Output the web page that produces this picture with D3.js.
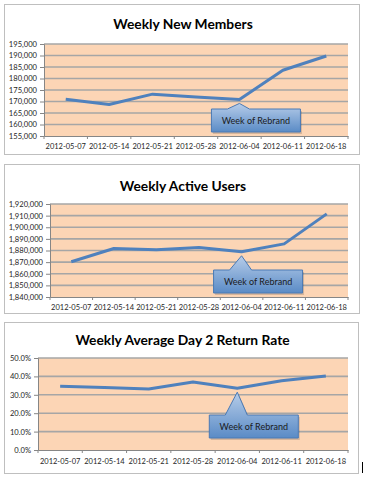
<!DOCTYPE html>
<html>
<head>
<meta charset="utf-8">
<script src="https://cdn.jsdelivr.net/npm/d3@7"></script>
<style>
  body { margin: 0; background: #fff; }
  svg { display: block; }
</style>
</head>
<body>
<div id="chart"></div>
<script>
var svgWidth = 369;
var svgHeight = 485;

// data
var weeks = ["2012-05-07", "2012-05-14", "2012-05-21", "2012-05-28", "2012-06-04", "2012-06-11", "2012-06-18"];
var newMembers = [171000, 168700, 173200, 172000, 170900, 183600, 189800];
var activeUsers = [1870300, 1881700, 1880600, 1882600, 1878900, 1885700, 1911500];
var returnRate = [0.346, 0.339, 0.332, 0.370, 0.336, 0.376, 0.402];

var newMembersTicks = [155000, 160000, 165000, 170000, 175000, 180000, 185000, 190000, 195000];
var activeUsersTicks = [1840000, 1850000, 1860000, 1870000, 1880000, 1890000, 1900000, 1910000, 1920000];
var returnRateTicks = [0, 0.1, 0.2, 0.3, 0.4, 0.5];

var rebrandWeek = "2012-06-04";
var rebrandLabel = "Week of Rebrand";

var svg = d3.select("#chart")
    .append("svg")
    .attr("width", svgWidth)
    .attr("height", svgHeight);

var defs = svg.append("defs");
var grad = defs.append("linearGradient")
    .attr("id", "calloutFill")
    .attr("x1", 0).attr("y1", 0)
    .attr("x2", 0).attr("y2", 1);
grad.append("stop").attr("offset", "0%").attr("stop-color", "#b7cde9");
grad.append("stop").attr("offset", "100%").attr("stop-color", "#5a8bc6");

var charts = [
    { title: "Weekly New Members", values: newMembers, ticks: newMembersTicks, fmt: d3.format(","),
      box: { x: 4.5, y: 4.5, w: 355, h: 150 }, plot: { left: 44, top: 44, right: 348, bottom: 136 },
      titleY: 29, labelY: 149, calloutBottom: 4 },
    { title: "Weekly Active Users", values: activeUsers, ticks: activeUsersTicks, fmt: d3.format(","),
      box: { x: 4.5, y: 164.5, w: 355, h: 149 }, plot: { left: 50, top: 204, right: 348, bottom: 297 },
      titleY: 191, labelY: 310, calloutBottom: 4 },
    { title: "Weekly Average Day 2 Return Rate", values: returnRate, ticks: returnRateTicks, fmt: d3.format(".1%"),
      box: { x: 4.5, y: 322.5, w: 354, h: 151 }, plot: { left: 38, top: 358, right: 348, bottom: 450 },
      titleY: 345, labelY: 464, calloutBottom: 12 }
];

charts.forEach(function(c) {
    var g = svg.append("g");

    g.append("rect")
        .attr("x", c.box.x).attr("y", c.box.y)
        .attr("width", c.box.w).attr("height", c.box.h)
        .attr("fill", "#fff")
        .attr("stroke", "#bfbfbf");

    g.append("text")
        .attr("x", (c.box.x + c.box.x + c.box.w) / 2 + 1)
        .attr("y", c.titleY)
        .attr("text-anchor", "middle")
        .attr("font-family", "Lato, 'Liberation Sans', sans-serif")
        .attr("font-weight", "bold")
        .attr("font-size", "13.8px")
        .attr("fill", "#000")
        .text(c.title);

    var x = d3.scaleBand()
        .domain(weeks)
        .range([c.plot.left, c.plot.right]);

    var y = d3.scaleLinear()
        .domain(d3.extent(c.ticks))
        .range([c.plot.bottom, c.plot.top]);

    g.append("rect")
        .attr("x", c.plot.left).attr("y", c.plot.top)
        .attr("width", c.plot.right - c.plot.left)
        .attr("height", c.plot.bottom - c.plot.top)
        .attr("fill", "#fcd5b5");

    // gridlines
    g.append("g").selectAll("line")
        .data(c.ticks.slice(1))
        .enter()
        .append("line")
        .attr("x1", c.plot.left).attr("x2", c.plot.right)
        .attr("y1", d => y(d)).attr("y2", d => y(d))
        .attr("stroke", "#a6a6a6")
        .attr("stroke-width", 1.6);

    var leftAxis = d3.axisLeft(y).tickValues(c.ticks).tickFormat(c.fmt).tickSize(4);
    var yAx = g.append("g")
        .attr("transform", `translate(${c.plot.left}, 0)`)
        .call(leftAxis);
    yAx.selectAll("text")
        .attr("font-family", "Lato, 'Liberation Sans', sans-serif")
        .attr("font-size", "7.6px")
        .attr("fill", "#262626");

    var bottomAxis = d3.axisBottom(x).tickSize(0).tickPadding(0);
    var xAx = g.append("g")
        .attr("transform", `translate(0, ${c.plot.bottom})`)
        .call(bottomAxis);
    xAx.selectAll("text")
        .attr("y", c.labelY - c.plot.bottom)
        .attr("dy", 0)
        .attr("font-family", "Lato, 'Liberation Sans', sans-serif")
        .attr("font-size", "7.5px")
        .attr("fill", "#262626");

    // tick marks between categories
    xAx.selectAll(".cat-tick")
        .data(d3.range(weeks.length + 1))
        .enter()
        .append("line")
        .attr("x1", i => c.plot.left + i * x.step())
        .attr("x2", i => c.plot.left + i * x.step())
        .attr("y1", 0).attr("y2", 3)
        .attr("stroke", "#868686");

    [yAx, xAx].forEach(function(a) {
        a.select(".domain").attr("stroke", "#868686");
        a.selectAll(".tick line").attr("stroke", "#868686");
    });

    var line = d3.line()
        .x((d, i) => x(weeks[i]) + x.bandwidth() / 2)
        .y(d => y(d));

    g.append("path")
        .datum(c.values)
        .attr("d", line)
        .attr("fill", "none")
        .attr("stroke", "#4f81bd")
        .attr("stroke-width", 3)
        .attr("stroke-linejoin", "round");

    // callout
    var ri = weeks.indexOf(rebrandWeek);
    var tipX = x(rebrandWeek) + x.bandwidth() / 2;
    var tipY = y(c.values[ri]) + 4;
    var bottom = c.plot.bottom - c.calloutBottom;
    var top = bottom - 23;
    var left = tipX - 28, right = tipX + 61;
    var callout = "M" + left + "," + top +
        "L" + (tipX - 12) + "," + top +
        "L" + tipX + "," + tipY +
        "L" + (tipX + 10) + "," + top +
        "L" + right + "," + top +
        "L" + right + "," + bottom +
        "L" + left + "," + bottom + "Z";

    g.append("path")
        .attr("d", callout)
        .attr("transform", "translate(1.5, 2)")
        .attr("fill", "#000")
        .attr("opacity", 0.15);

    g.append("path")
        .attr("d", callout)
        .attr("fill", "url(#calloutFill)")
        .attr("stroke", "#4a7ab5")
        .attr("stroke-width", 1);

    g.append("text")
        .attr("x", (left + right) / 2)
        .attr("y", (top + bottom) / 2 + 3)
        .attr("text-anchor", "middle")
        .attr("font-family", "Lato, 'Liberation Sans', sans-serif")
        .attr("font-size", "9px")
        .attr("fill", "#1a1a1a")
        .text(rebrandLabel);
});

// text cursor left in the screenshot
svg.append("line")
    .attr("x1", 362.5).attr("x2", 362.5)
    .attr("y1", 462).attr("y2", 473)
    .attr("stroke", "#000");
</script>
</body>
</html>
